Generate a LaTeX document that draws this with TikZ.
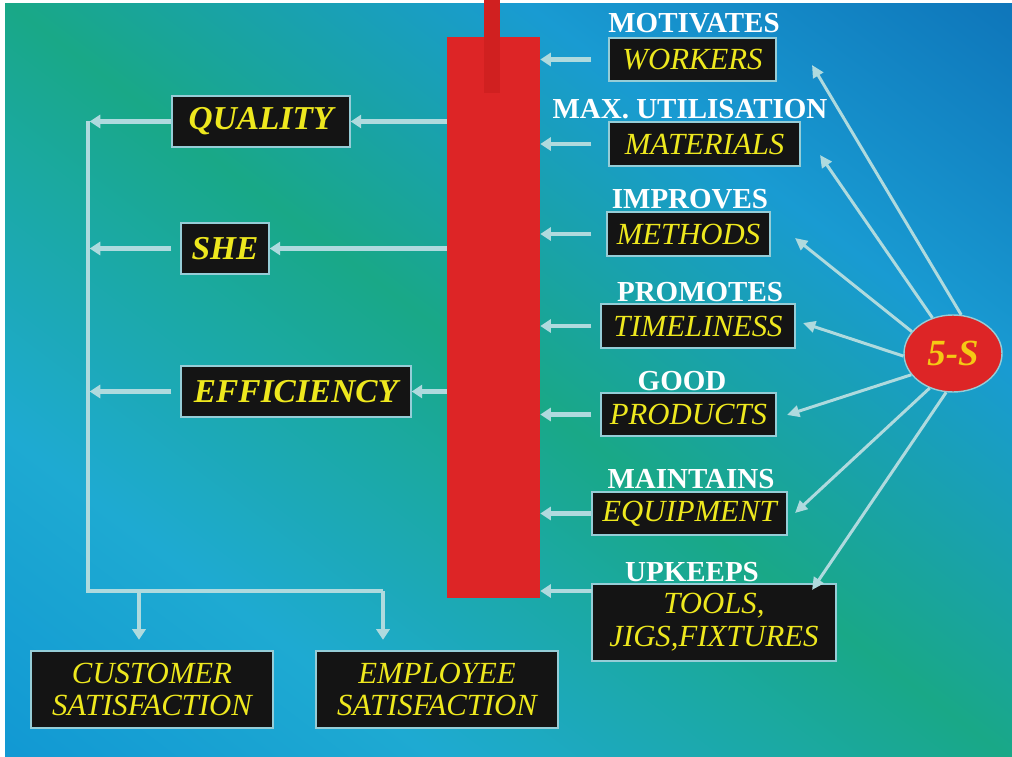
\documentclass[tikz,border=0pt]{standalone}
\usepackage{fontspec}
\setmainfont{Liberation Serif}
\usetikzlibrary{shapes.geometric,arrows.meta,calc}

\definecolor{barred}{RGB}{221,37,38}
\definecolor{stubred}{RGB}{208,32,32}
\definecolor{boxblack}{RGB}{20,20,20}
\definecolor{boxedge}{RGB}{150,205,215}
\definecolor{txtyellow}{RGB}{238,232,30}
\definecolor{fivegold}{RGB}{245,200,20}
\definecolor{arrowcol}{RGB}{175,218,222}
\definecolor{bgdeep}{RGB}{5,135,212}
\definecolor{bgcyan}{RGB}{30,170,210}
\definecolor{bggreen}{RGB}{25,168,135}
\definecolor{bgsky}{RGB}{25,155,210}
\definecolor{bgnavy}{RGB}{5,85,165}

\pgfdeclarehorizontalshading{backdrop}{100bp}{color(0bp)=(bgdeep); color(30bp)=(bgcyan); color(50bp)=(bggreen); color(68bp)=(bgsky); color(100bp)=(bgnavy)}

\tikzset{
  result/.style={fill=boxblack, draw=boxedge, line width=0.8pt, text=txtyellow, inner sep=0pt,
    font=\fontsize{19}{22}\selectfont\bfseries\itshape},
  gain/.style={fill=boxblack, draw=boxedge, line width=0.8pt, text=txtyellow, inner sep=0pt,
    align=center, font=\fontsize{17.5}{18.7}\selectfont\itshape},
  verb/.style={text=white, inner sep=0pt, font=\fontsize{16.5}{18}\selectfont\bfseries},
  flow/.style={draw=arrowcol, line width=2.3pt, -{Triangle[width=7.5pt,length=6pt]}},
  bus/.style={draw=arrowcol, line width=2.3pt},
  spoke/.style={draw=arrowcol, line width=1.7pt, -{Triangle[width=6.5pt,length=7pt]}},
}

\begin{document}
\begin{tikzpicture}[x=0.02cm,y=-0.02cm]
\useasboundingbox (0,0) rectangle (1012,757);
\fill[white] (0,0) rectangle (1012,757);
\shade[shading=backdrop, shading angle=53] (5,4) rectangle (1012,757);

% red column
\node[fill=barred, minimum width=1.86cm, minimum height=11.22cm, inner sep=0pt] (bar) at (493.5,317.5) {};
\node[fill=stubred, minimum width=0.32cm, minimum height=1.86cm, inner sep=0pt] (stub) at (492,46.5) {};

% results, left
\node[result, minimum width=3.56cm, minimum height=1.02cm] (quality) at (261,121.5) {QUALITY};
\node[result, minimum width=1.76cm, minimum height=1.02cm] (she) at (225,248.5) {SHE};
\node[result, minimum width=4.60cm, minimum height=1.02cm] (efficiency) at (296,391.5) {EFFICIENCY};
\node[gain, minimum width=4.84cm, minimum height=1.54cm] (customer) at (152,689.5) {CUSTOMER\\SATISFACTION};
\node[gain, minimum width=4.84cm, minimum height=1.54cm] (employee) at (437,689.5) {EMPLOYEE\\SATISFACTION};

% gains, right
\node[gain, minimum width=3.34cm, minimum height=0.86cm] (workers) at (692.5,59.5) {WORKERS};
\node[gain, minimum width=3.82cm, minimum height=0.88cm] (materials) at (704.5,144) {MATERIALS};
\node[gain, minimum width=3.26cm, minimum height=0.88cm] (methods) at (688.5,234) {METHODS};
\node[gain, minimum width=3.88cm, minimum height=0.88cm] (timeliness) at (698,326) {TIMELINESS};
\node[gain, minimum width=3.50cm, minimum height=0.86cm] (products) at (688.5,414.5) {PRODUCTS};
\node[gain, minimum width=3.90cm, minimum height=0.86cm] (equipment) at (689.5,513.5) {EQUIPMENT};
\node[gain, minimum width=4.88cm, minimum height=1.54cm] (tools) at (714,622.5) {TOOLS,\\JIGS,FIXTURES};

\node[verb] (motivates) at (694,23) {MOTIVATES};
\node[verb] (maxutil) at (690,109) {MAX. UTILISATION};
\node[verb] (improves) at (690,199) {IMPROVES};
\node[verb] (promotes) at (700,292) {PROMOTES};
\node[verb] (good) at (682,381) {GOOD};
\node[verb] (maintains) at (691,479) {MAINTAINS};
\node[verb] (upkeeps) at (692,572) {UPKEEPS};

\node[ellipse, fill=barred, draw=boxedge, line width=0.8pt, minimum width=1.96cm, minimum height=1.54cm,
  inner sep=0pt, text=fivegold, font=\fontsize{21}{24}\selectfont\bfseries\itshape] (fives) at (953,353.5) {5-S};

% bar to results
\draw[flow] (bar.west |- quality) -- (quality.east);
\draw[flow] (bar.west |- she) -- (she.east);
\draw[flow] (bar.west |- efficiency) -- (efficiency.east);

% results to satisfaction
\coordinate (bustop) at (88,121.5);
\coordinate (busbot) at (88,591);
\coordinate (busdrop) at (139,591);
\coordinate (busend) at (383,591);
\draw[bus] (bustop) -- (busbot) -- (busend);
\draw[flow, shorten >=1pt] (quality.west) -- (quality.west -| bustop);
\draw[flow, shorten >=1pt] (she.west -| quality.west) -- (she.west -| bustop);
\draw[flow, shorten >=1pt] (efficiency.west -| quality.west) -- (efficiency.west -| bustop);
\draw[flow, shorten >=6pt] (busdrop) -- (busdrop |- customer.north);
\draw[flow, shorten >=6pt] (busend) -- (busend |- employee.north);

% gains to bar
\coordinate (toolsin) at (592,591);
\draw[flow] (workers.west -| tools.west) -- (workers.west -| bar.east);
\draw[flow] (materials.west -| tools.west) -- (materials.west -| bar.east);
\draw[flow] (methods.west -| tools.west) -- (methods.west -| bar.east);
\draw[flow] (timeliness.west -| tools.west) -- (timeliness.west -| bar.east);
\draw[flow] (products.west -| tools.west) -- (products.west -| bar.east);
\draw[flow] (equipment.west -| tools.west) -- (equipment.west -| bar.east);
\draw[flow] (toolsin) -- (toolsin -| bar.east);

% 5-S spokes
\coordinate (toworkers) at (812,65);
\coordinate (tomaterials) at (820,155);
\coordinate (tomethods) at (795,238);
\coordinate (totimeliness) at (803,323);
\coordinate (toproducts) at (787,415);
\coordinate (toequipment) at (795,513);
\coordinate (totools) at (812,590);
\draw[spoke] (fives.78) -- (toworkers);
\draw[spoke] (fives.120) -- (tomaterials);
\draw[spoke] (fives.152) -- (tomethods);
\draw[spoke] (fives.183) -- (totimeliness);
\draw[spoke] (fives.207) -- (toproducts);
\draw[spoke] (fives.236) -- (toequipment);
\draw[spoke] (fives.260) -- (totools);
\end{tikzpicture}
\end{document}
